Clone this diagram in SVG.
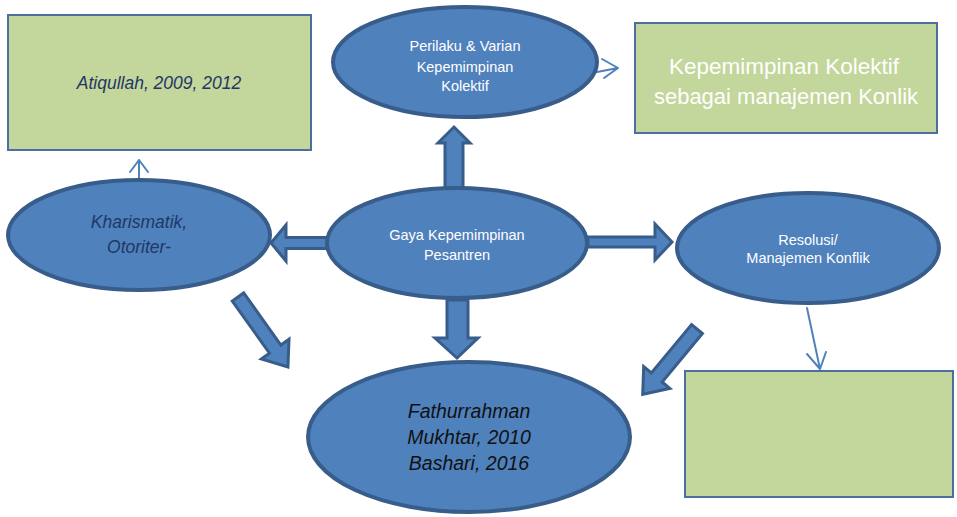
<svg xmlns="http://www.w3.org/2000/svg" width="957" height="517" viewBox="0 0 957 517">
<defs>
<style>
.ell{fill:#4f81bd;stroke:#385d8a;stroke-width:4}
.box{fill:#c3d69b;stroke:#4a6fa0;stroke-width:2}
.blk{fill:#4f81bd;stroke:#385d8a;stroke-width:3;stroke-linejoin:miter}
.thin{fill:none;stroke:#4f81bd;stroke-width:2;stroke-linecap:round;stroke-linejoin:round}
.wt{fill:#ffffff;font-family:"Liberation Sans",Arial,sans-serif;text-anchor:middle}
.nv{fill:#1f3864;font-family:"Liberation Sans",Arial,sans-serif;font-style:italic;text-anchor:middle}
.bk{fill:#111111;font-family:"Liberation Sans",Arial,sans-serif;font-style:italic;text-anchor:middle}
</style>
</defs>
<rect width="957" height="517" fill="#ffffff"/>

<g id="connectors">
<path class="thin" d="M139,180 V160 M130,172 L139,160 L148,172"/>
<path class="thin" d="M597,72 L618,68 M602,59 L618,68 L604,78"/>
<path class="thin" d="M807,308 L820,369 M807,354 L820,369 L826,352"/>
<path class="blk" d="M327,237.5 H286 V225 L271,243 L286,261 V248.5 H327 Z"/>
<path class="blk" d="M588,237 H655 V224 L672,242 L655,260 V247 H588 Z"/>
<path class="blk" d="M445,188 V143 H438 L454,127 L470,143 H463 V188 Z"/>
<path class="blk" d="M447,300 V338 H435 L457,358 L478,338 H468 V300 Z"/>
<path class="blk" transform="translate(238,297) rotate(54.5)" d="M0,-7 H64 V-17 L86,0 L64,17 V7 H0 Z"/>
<path class="blk" transform="translate(697,329) rotate(129.7)" d="M0,-7 H63 V-17 L85,0 L63,17 V7 H0 Z"/>
</g>

<g id="atiqullah">
<rect class="box" x="8" y="15" width="303" height="135"/>
<text class="nv" x="159" y="89" font-size="17.5">Atiqullah, 2009, 2012</text>
</g>

<g id="kepemimpinan-kolektif">
<rect class="box" x="635" y="23" width="302" height="110"/>
<text class="wt" x="784" y="74" font-size="22.5">Kepemimpinan Kolektif</text>
<text class="wt" x="786" y="104" font-size="22">sebagai manajemen Konlik</text>
</g>

<g id="box-bottom-right">
<rect class="box" x="685" y="371" width="268" height="126"/>
</g>

<g id="kharismatik">
<ellipse class="ell" cx="139" cy="235" rx="131" ry="55"/>
<text class="nv" x="139" y="228" font-size="17.5">Kharismatik,</text>
<text class="nv" x="139" y="253" font-size="17.5">Otoriter-</text>
</g>

<g id="perilaku">
<ellipse class="ell" cx="465" cy="62" rx="132" ry="55"/>
<text class="wt" x="465" y="51" font-size="14.5">Perilaku &amp; Varian</text>
<text class="wt" x="465" y="72" font-size="14.5">Kepemimpinan</text>
<text class="wt" x="465" y="91" font-size="14.5">Kolektif</text>
</g>

<g id="gaya">
<ellipse class="ell" cx="457" cy="243" rx="130" ry="55"/>
<text class="wt" x="457" y="240" font-size="14.5">Gaya Kepemimpinan</text>
<text class="wt" x="457" y="260" font-size="14.5">Pesantren</text>
</g>

<g id="resolusi">
<ellipse class="ell" cx="808" cy="248" rx="131" ry="55"/>
<text class="wt" x="808" y="245" font-size="14.5">Resolusi/</text>
<text class="wt" x="808" y="263" font-size="14.5">Manajemen Konflik</text>
</g>

<g id="fathurrahman">
<ellipse class="ell" cx="469" cy="437" rx="161" ry="75"/>
<text class="bk" x="469" y="418" font-size="19.5">Fathurrahman</text>
<text class="bk" x="469" y="444" font-size="19.5">Mukhtar, 2010</text>
<text class="bk" x="469" y="470" font-size="19.5">Bashari, 2016</text>
</g>
</svg>
